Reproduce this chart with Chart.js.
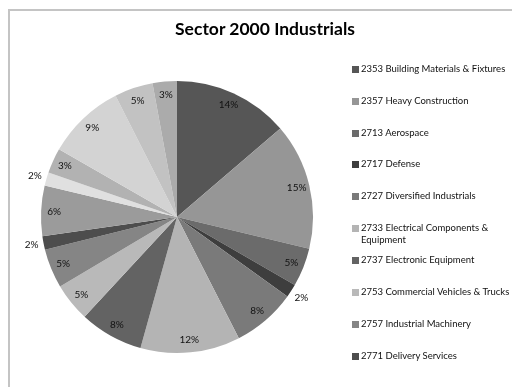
<!DOCTYPE html>
<html>
<head>
<meta charset="utf-8">
<title>Sector 2000 Industrials</title>
<script src="https://cdn.jsdelivr.net/npm/chart.js@4.4.0/dist/chart.umd.min.js"></script>
<style>
body {
margin: 0;
background: #fff;
font-family: Lato, "Noto Sans", sans-serif;
}
.frame {
position: absolute;
left: 8px;
top: 9px;
width: 600px;
height: 500px;
border-top: 2px solid #c4c4c4;
border-left: 2px solid #c4c4c4;
}
.wrap {
position: absolute;
left: 0;
top: 0;
width: 512px;
height: 387px;
overflow: hidden;
}
#pieChart {
position: absolute;
left: 0;
top: 0;
}
#title {
position: absolute;
left: 8px;
width: 514px;
top: 18px;
text-align: center;
font-weight: bold;
font-size: 17.5px;
color: #000;
}
#legend {
position: absolute;
left: 352px;
top: 0;
width: 160px;
font-size: 9.5px;
color: #111;
}
#legend .item {
position: absolute;
left: 0;
padding-left: 9px;
width: 152px;
line-height: 12px;
}
#legend .box {
position: absolute;
left: 0;
top: 2.5px;
width: 7px;
height: 7px;
}
</style>
</head>
<body>
<div class="wrap">
 <div class="frame"></div>
 <canvas id="pieChart" width="512" height="387"></canvas>
 <div id="title">Sector 2000 Industrials</div>
 <div id="legend"></div>
</div>
<script>
// sectors (only the first 10 fit in the legend of the original)
const sectors = [
    '2353 Building Materials & Fixtures',
    '2357 Heavy Construction',
    '2713 Aerospace',
    '2717 Defense',
    '2727 Diversified Industrials',
    '2733 Electrical Components & Equipment',
    '2737 Electronic Equipment',
    '2753 Commercial Vehicles & Trucks',
    '2757 Industrial Machinery',
    '2771 Delivery Services',
    '2773 Marine Transportation',
    '2775 Railroads',
    '2777 Transportation Services',
    '2779 Trucking',
    '2791 Business Support Services',
    '2797 Industrial Suppliers'
];
// share of the sector, in percent
const shares = [13.8, 15.1, 4.6, 1.6, 7.6, 11.9, 7.6, 4.6, 4.7, 1.6, 6.0, 1.6, 3.0, 9.3, 4.6, 2.9];
const sliceColors = [
    '#565656', '#969696', '#6b6b6b', '#3e3e3e', '#7a7a7a', '#b4b4b4', '#636363', '#b9b9b9',
    '#858585', '#4d4d4d', '#9b9b9b', '#e0e0e0', '#b2b2b2', '#d3d3d3', '#c2c2c2', '#ababab'
];
const legendCount = 10;
const legendTops = [63, 95, 127, 158, 190, 222, 254, 286, 318, 350];

// percent labels, inside the slice or just outside for the thin ones
const pctLabels = {
    id: 'pctLabels',
    afterDatasetsDraw(chart) {
        const ctx = chart.ctx;
        const meta = chart.getDatasetMeta(0);
        const total = shares.reduce((a, b) => a + b, 0);
        ctx.save();
        ctx.font = '10px Lato, "Noto Sans", sans-serif';
        ctx.fillStyle = '#111';
        ctx.textAlign = 'center';
        ctx.textBaseline = 'middle';
        meta.data.forEach((arc, i) => {
            const p = arc.getProps(['x', 'y', 'startAngle', 'endAngle', 'outerRadius'], true);
            const mid = (p.startAngle + p.endAngle) / 2;
            const dist = shares[i] < 2.5 ? p.outerRadius + 12 : p.outerRadius * 0.905;
            const txt = Math.round(shares[i] / total * 100) + '%';
            ctx.fillText(txt, p.x + Math.cos(mid) * dist, p.y + Math.sin(mid) * dist);
        });
        ctx.restore();
    }
};

const ctx = document.getElementById('pieChart').getContext('2d');
const pieChart = new Chart(ctx, {
    type: 'pie',
    data: {
        labels: sectors,
        datasets: [{
            data: shares,
            backgroundColor: sliceColors,
            borderWidth: 0
        }]
    },
    options: {
        responsive: false,
        animation: false,
        layout: {
            padding: { left: 41, right: 199, top: 81, bottom: 34 }
        },
        plugins: {
            legend: { display: false },
            title: { display: false },
            tooltip: { enabled: false }
        }
    },
    plugins: [pctLabels]
});

// legend built from the same arrays
let li = '';
for (let i = 0; i < legendCount; i++) {
    li += `<div class="item" style="top:${legendTops[i]}px">
        <span class="box" style="background:${sliceColors[i]}"></span>${sectors[i]}</div>`;
}
document.getElementById('legend').innerHTML = li;
</script>
</body>
</html>
